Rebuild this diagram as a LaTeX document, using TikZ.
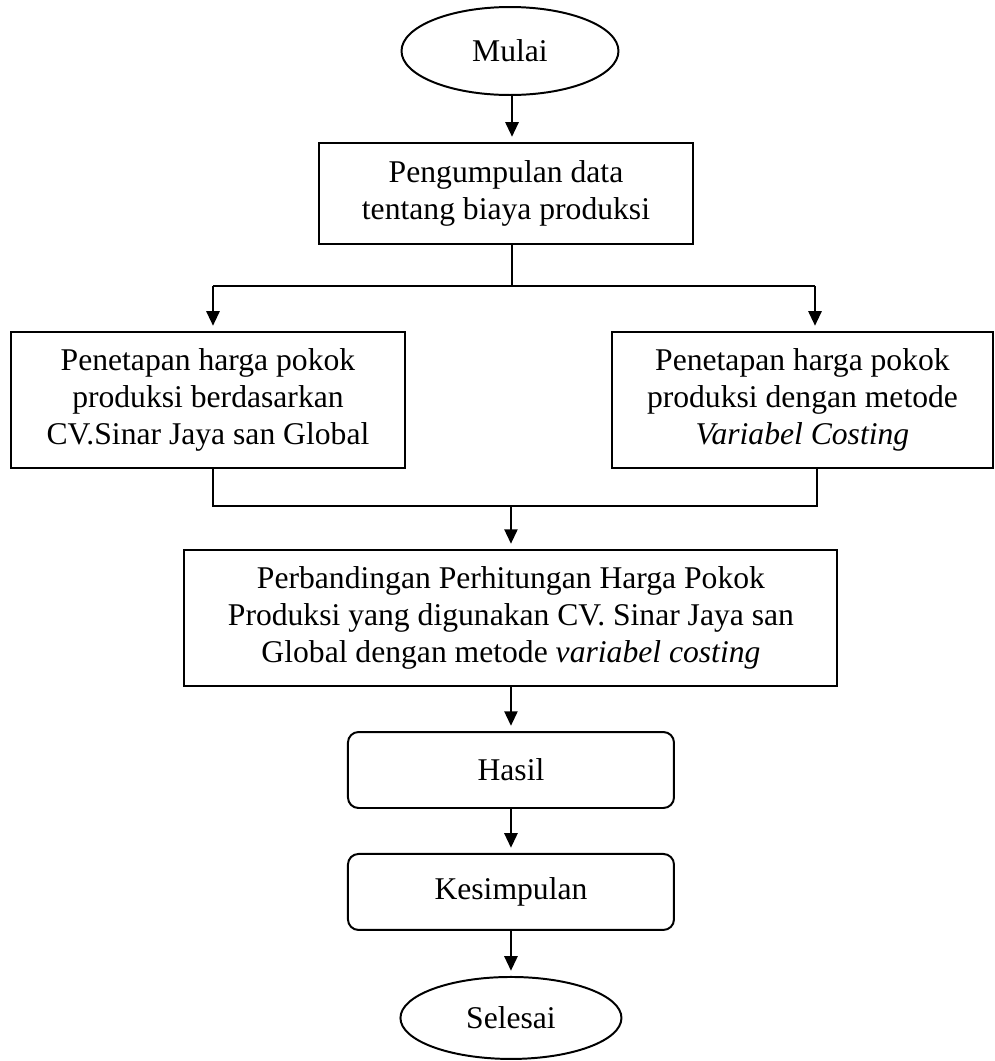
\documentclass[tikz,border=0pt]{standalone}
\usepackage{fontspec}
\setmainfont{Liberation Serif}
\usetikzlibrary{shapes,arrows.meta,positioning}

\begin{document}
\begin{tikzpicture}[every node/.style={align=center, font=\fontsize{12}{14}\selectfont},
  kotak/.style={draw, line width=0.75pt, inner sep=0pt},
  kotakbulat/.style={draw, line width=0.75pt, rounded corners=4pt, inner sep=0pt},
  terminal/.style={draw, ellipse, line width=0.75pt, inner sep=0pt},
  garis/.style={line width=0.75pt},
  panah/.style={->, line width=0.75pt, shorten >=2pt},
  >={Triangle[length=5.5pt, width=5pt]}]
\useasboundingbox (0,0) rectangle (13.267,-14.147);
% Start and process boxes
\node[terminal, minimum width=2.893cm, minimum height=1.173cm] (mulai) at (6.80,-0.68) {Mulai};
\node[kotak, minimum width=4.987cm, minimum height=1.347cm] (kumpul) at (6.747,-2.58) {Pengumpulan data\\tentang biaya produksi};
\node[kotak, minimum width=5.253cm, minimum height=1.813cm] (kiri) at (2.773,-5.333) {Penetapan harga pokok\\produksi berdasarkan\\CV.Sinar Jaya san Global};
\node[kotak, minimum width=5.08cm, minimum height=1.813cm] (kanan) at (10.70,-5.333) {Penetapan harga pokok\\produksi dengan metode\\\textit{Variabel Costing}};
\node[kotak, minimum width=8.707cm, minimum height=1.813cm] (banding) at (6.813,-8.24) {Perbandingan Perhitungan Harga Pokok\\Produksi yang digunakan CV. Sinar Jaya san\\Global dengan metode \textit{variabel costing}};
\node[kotakbulat, minimum width=4.347cm, minimum height=1.013cm] (hasil) at (6.813,-10.267) {Hasil};
\node[kotakbulat, minimum width=4.347cm, minimum height=1.013cm] (simpul) at (6.813,-11.893) {Kesimpulan};
\node[terminal, minimum width=2.947cm, minimum height=1.093cm] (selesai) at (6.813,-13.573) {Selesai};

% Junction points
\coordinate (pisah) at (6.827,-3.813);
\coordinate (pisahkiri) at (2.84,-3.813);
\coordinate (pisahkanan) at (10.867,-3.813);
\coordinate (gabungkiri) at (2.84,-6.747);
\coordinate (gabungkanan) at (10.893,-6.747);

% Arrows
\draw[panah] (mulai.south -| pisah) -- (kumpul.north -| pisah);
\draw[garis] (kumpul.south -| pisah) -- (pisah);
\draw[garis] (pisahkiri) -- (pisahkanan);
\draw[panah] (pisahkiri) -- (pisahkiri |- kiri.north);
\draw[panah] (pisahkanan) -- (pisahkanan |- kanan.north);
\draw[garis] (kiri.south -| gabungkiri) -- (gabungkiri) -- (gabungkanan) -- (kanan.south -| gabungkanan);
\draw[panah] (banding |- gabungkiri) -- (banding.north);
\draw[panah] (banding.south) -- (banding.south |- hasil.north);
\draw[panah] (hasil) -- (simpul);
\draw[panah] (simpul) -- (selesai);
\end{tikzpicture}
\end{document}
